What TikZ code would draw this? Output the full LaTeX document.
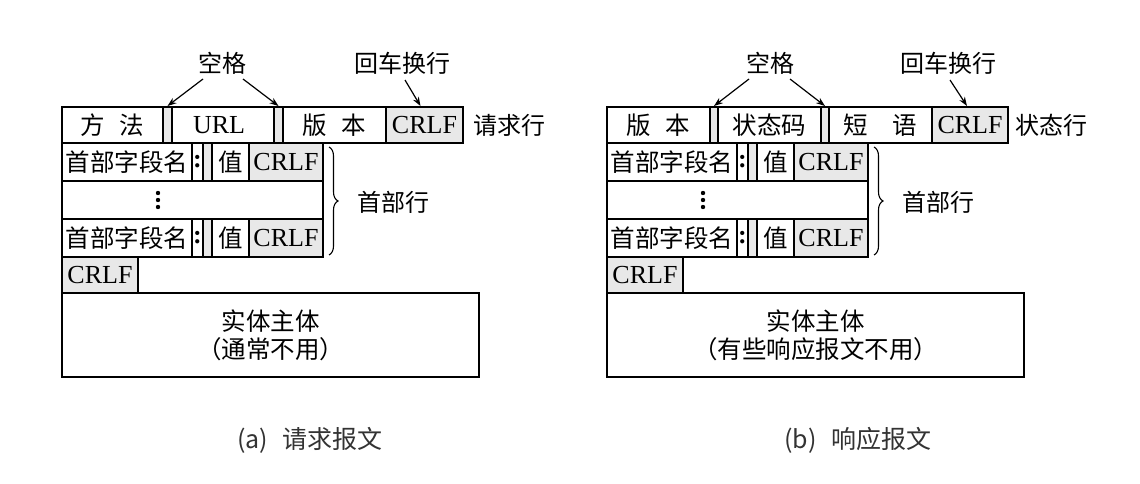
\documentclass[tikz,border=0pt]{standalone}
\usepackage{fontspec}
\setmainfont{Liberation Serif}
\newfontfamily\cjk{Noto Sans CJK SC}
\usetikzlibrary{decorations.pathreplacing,arrows.meta,calc}
\definecolor{cellgray}{HTML}{E8E8E8}
\definecolor{captcol}{HTML}{333333}
\newcommand\cz{\cjk\fontsize{24.5}{28}\selectfont}
\tikzset{
  cell/.style={draw, line width=1.3pt, anchor=north west, inner sep=0pt, outer sep=0pt,
    font=\fontsize{26}{28}\selectfont, align=center},
  grycell/.style={fill=cellgray},
  lbl/.style={font=\cjk\fontsize{24}{28}\selectfont, inner sep=0pt},
  captxt/.style={font=\cjk\fontsize{25}{28}\selectfont, inner sep=0pt, text=captcol},
  arr/.style={-{Stealth[length=9pt,width=6.5pt]}, line width=1.2pt},
  brc/.style={decorate, decoration={brace, amplitude=9pt}, line width=1.1pt},
}
\newcommand\cellbox[7]{%
  \node[cell,#6,minimum width={(#4-#2)*1pt},minimum height={(#5-#3)*1pt}] (#1) at (#2,#3) {#7};}
\newcommand\hdrrows[1]{%
  \cellbox{#1n1}{62}{143}{192}{181}{}{\cz 首部字段名}
  \cellbox{#1col1}{192}{143}{203}{181}{}{\bfseries :}
  \cellbox{#1g1}{203}{143}{212}{181}{grycell}{}
  \cellbox{#1v1}{212}{143}{249}{181}{}{\cz 值}
  \cellbox{#1cr1}{249}{143}{323}{181}{grycell}{CRLF}
  \cellbox{#1dots}{62}{181}{323}{219}{}{}
  \fill (158,193) circle (2.2) (158,200) circle (2.2) (158,207) circle (2.2);
  \cellbox{#1n3}{62}{219}{192}{257}{}{\cz 首部字段名}
  \cellbox{#1col3}{192}{219}{203}{257}{}{\bfseries :}
  \cellbox{#1g3}{203}{219}{212}{257}{grycell}{}
  \cellbox{#1v3}{212}{219}{249}{257}{}{\cz 值}
  \cellbox{#1cr3}{249}{219}{323}{257}{grycell}{CRLF}
  \cellbox{#1crlf}{62}{257}{138}{293}{grycell}{CRLF}
  \draw[brc] ($(#1cr1.north east)+(6,4)$) -- ($(#1cr3.south east)+(6,-2)$);
  \node[lbl, anchor=west] (#1hdr) at (357,202) {首部行};
}
\begin{document}
\begin{tikzpicture}[x=1pt,y=-1pt]
\useasboundingbox (0,0) rectangle (1140,484);
% ---------- (a) request ----------
\cellbox{a_meth}{62}{107}{163}{143}{}{\cz 方\hspace{0.6em}法}
\cellbox{a_s1}{163}{107}{172}{143}{grycell}{}
\cellbox{a_url}{172}{107}{274}{143}{}{URL\hspace{0.3em}}
\cellbox{a_s2}{274}{107}{283}{143}{grycell}{}
\cellbox{a_ver}{283}{107}{386}{143}{}{\cz 版\hspace{0.6em}本}
\cellbox{a_cr0}{386}{107}{463}{143}{grycell}{CRLF}
\node[lbl, anchor=west] (a_line) at (473,125) {请求行};
\node[lbl] (a_sp) at (222,63) {空格};
\node[lbl] (a_crlab) at (402,63) {回车换行};
\coordinate (a_sp1) at (203,79);
\coordinate (a_sp2) at (243,79);
\coordinate (a_cl) at (405,80);
\draw[arr] (a_sp1) -- ($(a_s1.north)+(0,-1)$);
\draw[arr] (a_sp2) -- ($(a_s2.north)+(0,-1)$);
\draw[arr] (a_cl) -- ($(a_cr0.north)+(-4,-1)$);
\hdrrows{a_}
\cellbox{a_body}{62}{293}{479}{377}{}{\cz 实体主体\\\cz （通常不用）}
\node[captxt] (a_cap) at (310,440) {(a)\hspace{0.6em}请求报文};
% ---------- (b) response ----------
\begin{scope}[xshift=545pt]
\cellbox{b_ver}{62}{107}{165}{143}{}{\cz 版\hspace{0.6em}本}
\cellbox{b_s1}{165}{107}{173}{143}{grycell}{}
\cellbox{b_code}{173}{107}{276}{143}{}{\cz 状态码}
\cellbox{b_s2}{276}{107}{284}{143}{grycell}{}
\cellbox{b_phr}{284}{107}{387}{143}{}{\cz 短\hspace{1em}语}
\cellbox{b_cr0}{387}{107}{463}{143}{grycell}{CRLF}
\node[lbl, anchor=west] (b_line) at (470,125) {状态行};
\node[lbl] (b_sp) at (225,63) {空格};
\node[lbl] (b_crlab) at (403,63) {回车换行};
\coordinate (b_sp1) at (204,79);
\coordinate (b_sp2) at (245,79);
\coordinate (b_cl) at (405,80);
\draw[arr] (b_sp1) -- ($(b_s1.north)+(0,-1)$);
\draw[arr] (b_sp2) -- ($(b_s2.north)+(0,-1)$);
\draw[arr] (b_cl) -- ($(b_cr0.north)+(-3,-1)$);
\hdrrows{b_}
\cellbox{b_body}{62}{293}{479}{377}{}{\cz 实体主体\\\cz （有些响应报文不用）}
\end{scope}
\node[captxt] (b_cap) at (858,440) {(b)\hspace{0.6em}响应报文};
\end{tikzpicture}
\end{document}
